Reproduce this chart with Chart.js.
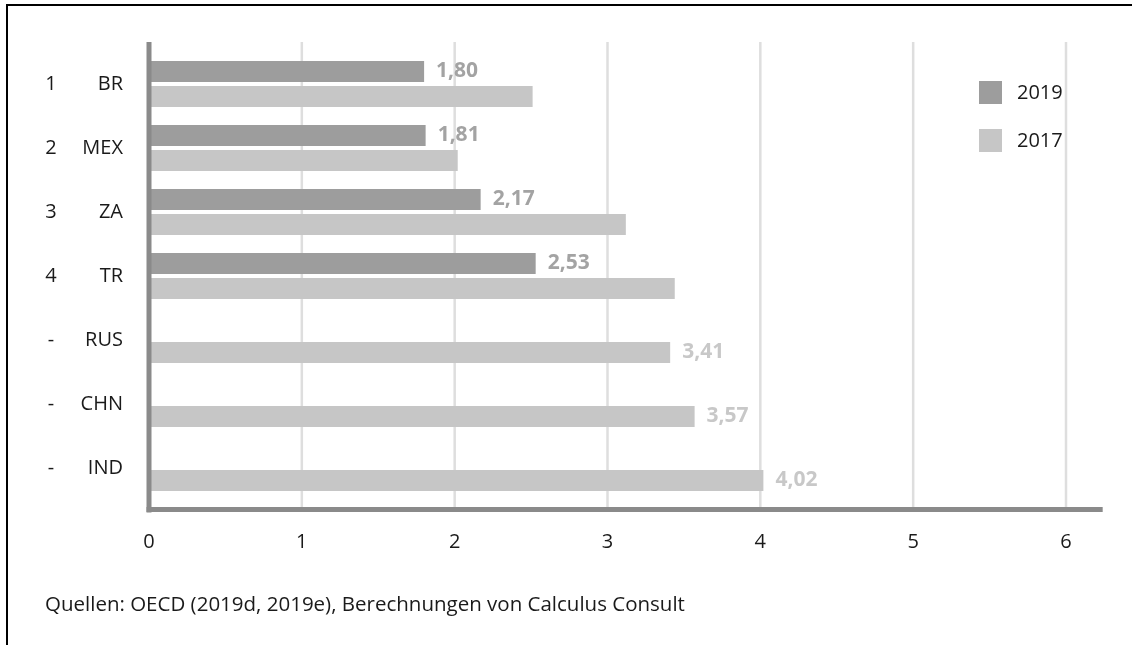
<!DOCTYPE html>
<html>
<head>
<meta charset="utf-8">
<script src="https://cdn.jsdelivr.net/npm/chart.js@4/dist/chart.umd.min.js"></script>
<style>
html,body{margin:0;padding:0;background:#fff;}
canvas{display:block;}
</style>
</head>
<body>
<canvas id="c" width="1132" height="645"></canvas>
<script>
const countries = ['BR', 'MEX', 'ZA', 'TR', 'RUS', 'CHN', 'IND'];
const ranks = ['1', '2', '3', '4', '-', '-', '-'];
const values2019 = [1.80, 1.81, 2.17, 2.53, null, null, null];
const values2017 = [2.51, 2.02, 3.12, 3.44, 3.41, 3.57, 4.02];
const xTicks = [0, 1, 2, 3, 4, 5, 6];
const seriesNames = ['2019', '2017'];
const sourceNote = 'Quellen: OECD (2019d, 2019e), Berechnungen von Calculus Consult';

const FONT = '"Open Sans", "Noto Sans", sans-serif';
const COL2019 = '#9d9d9d', COL2017 = '#c6c6c6';

const decor = {
  id: 'decor',
  beforeDatasetsDraw(chart) {
    const ctx = chart.ctx, x = chart.scales.x, a = chart.chartArea;
    ctx.save();
    ctx.strokeStyle = '#dedede'; ctx.lineWidth = 2.5;
    xTicks.forEach(v => {
      if (v === 0) return;
      const px = x.getPixelForValue(v);
      ctx.beginPath(); ctx.moveTo(px, a.top - 10); ctx.lineTo(px, a.bottom + 8); ctx.stroke();
    });
    ctx.restore();
  },
  afterDatasetsDraw(chart) {
    const ctx = chart.ctx, x = chart.scales.x, y = chart.scales.y, a = chart.chartArea;
    ctx.save();
    ctx.fillStyle = '#8a8a8a';
    const x0 = x.getPixelForValue(0);
    ctx.fillRect(x0 - 2.5, a.top - 10, 5, a.bottom - a.top + 22.5);
    ctx.fillRect(x0 - 2.5, a.bottom + 7, x.getPixelForValue(6.24) - x0 + 2.5, 5);
    ctx.fillStyle = '#000';
    ctx.fillRect(6, 4, 1132 - 6, 2);
    ctx.fillRect(6, 4, 2, 645 - 4);
    ctx.fillStyle = '#1a1a1a';
    ctx.font = '20px ' + FONT;
    ctx.textAlign = 'center'; ctx.textBaseline = 'middle';
    ranks.forEach((r, i) => ctx.fillText(r, 51, y.getPixelForValue(i)));
    ctx.font = 'bold 21px ' + FONT;
    ctx.textAlign = 'left';
    const m19 = chart.getDatasetMeta(0), m17 = chart.getDatasetMeta(1);
    values2019.forEach((v, i) => {
      if (v === null) return;
      const b = m19.data[i];
      ctx.fillStyle = '#a3a3a3';
      ctx.fillText(v.toFixed(2).replace('.', ','), b.x + 12, b.y);
    });
    values2017.forEach((v, i) => {
      if (values2019[i] !== null) return;
      const b = m17.data[i];
      ctx.fillStyle = '#c8c8c8';
      ctx.fillText(v.toFixed(2).replace('.', ','), b.x + 12, b.y);
    });
    ctx.font = '20px ' + FONT;
    chart.data.datasets.forEach((ds, i) => {
      const top = 81 + i * 48;
      ctx.fillStyle = ds.backgroundColor;
      ctx.fillRect(979, top, 23, 23);
      ctx.fillStyle = '#1a1a1a';
      ctx.fillText(ds.label, 1017, top + 12);
    });
    ctx.font = '20.5px ' + FONT;
    ctx.fillText(sourceNote, 45, 605);
    ctx.restore();
  }
};

new Chart(document.getElementById('c'), {
  type: 'bar',
  data: {
    labels: countries,
    datasets: [
      { label: seriesNames[0], data: values2019, backgroundColor: COL2019 },
      { label: seriesNames[1], data: values2017, backgroundColor: COL2017 }
    ]
  },
  options: {
    indexAxis: 'y',
    responsive: false,
    animation: false,
    devicePixelRatio: 1,
    categoryPercentage: 0.78125,
    barPercentage: 0.84,
    layout: { padding: { top: 52, right: 66, left: 0, bottom: 0 } },
    plugins: { legend: { display: false }, tooltip: { enabled: false } },
    scales: {
      x: {
        type: 'linear', min: 0, max: 6,
        grid: { display: false, drawTicks: false },
        border: { display: false },
        afterBuildTicks: s => { s.ticks = xTicks.map(v => ({ value: v })); },
        afterFit: s => { s.height = 145; },
        ticks: { stepSize: 1, padding: 30, color: '#1a1a1a', font: { family: FONT, size: 20 } }
      },
      y: {
        grid: { display: false, drawTicks: false },
        border: { display: false },
        afterFit: s => { s.width = 149; },
        ticks: { padding: 26, color: '#1a1a1a', font: { family: FONT, size: 20 } }
      }
    }
  },
  plugins: [decor]
});
</script>
</body>
</html>
